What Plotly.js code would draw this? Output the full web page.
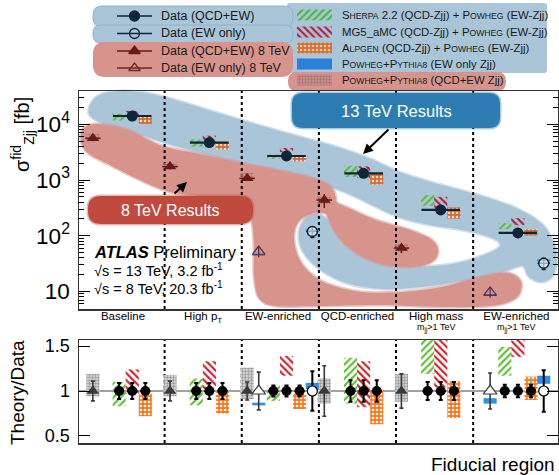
<!DOCTYPE html>
<html><head><meta charset="utf-8">
<script src="https://cdn.plot.ly/plotly-3.0.1.min.js"></script>
<style>html,body{margin:0;padding:0;background:#fff}#chart{width:559px;height:475px}</style>
</head><body><div id="chart"></div>
<script>
// ---------------- DATA ----------------
const regions = ['Baseline','High pT','EW-enriched','QCD-enriched','High mass','EW-enriched mjj>1 TeV'];
const tickText = ['Baseline','High p<sub>T</sub>','EW-enriched','QCD-enriched','High mass','EW-enriched'];
const subLabels = ['','','','','m<sub>jj</sub>&gt;1 TeV','m<sub>jj</sub>&gt;1 TeV'];
// 13 TeV data, QCD+EW (fb)
const sigma13 = [14100, 4700, 2700, 1320, 290, 112];
const relErr13 = [0.09, 0.09, 0.06, 0.12, 0.10, 0.07];
// 8 TeV data, QCD+EW (fb)
const sigma8 = [5600, 1740, 1070, 437, 60];
const relErr8 = [0.11, 0.11, 0.10, 0.28, 0.19];
// EW-only data
const ewRegions = [2, 5];
const sigmaEW13 = [119, 32];
const relErrEW13 = [0.22, 0.23];
const sigmaEW8 = [52, 9.6];
const relErrEW8 = [0.21, 0.20];
// Theory/Data ranges
const sherpaLo = [0.83, 0.84, 0.89, 0.86, 1.19, 1.17];
const sherpaHi = [1.10, 1.14, 1.06, 1.37, 1.85, 1.49];
const mg5Lo    = [0.97, 1.02, 1.17, 0.82, 1.04, 1.38];
const mg5Hi    = [1.24, 1.33, 1.39, 1.33, 1.72, 1.85];
const alpgenLo = [0.72, 0.75, 0.80, 0.63, 0.70, 0.90];
const alpgenHi = [0.97, 0.99, 0.97, 1.01, 1.11, 1.16];
const pp8Lo    = [0.94, 0.94, 0.91, 0.86, 0.88];
const pp8Hi    = [1.19, 1.18, 1.26, 1.14, 1.19];
const ewPP8Lo  = [0.84, 0.86];
const ewPP8Hi  = [0.87, 0.92];
const ewPP13Lo = [1.02, 1.08];
const ewPP13Hi = [1.09, 1.17];

// ---------------- GEOMETRY / STYLE ----------------
const W=559,H=475,ML=79,MR=1,MT=0,MB=32,PW=W-ML-MR,PH=H-MT-MB;
const OFF = {tri8:0.07, triEW8:0.22, c1:0.41, c2:0.58, c3:0.75, circEW:0.915};
const BW = 0.17;
const tickPos = [0.46,1.5,2.47,3.5,4.52,5.56];
const FONT = 'Liberation Sans, Arial, Helvetica, sans-serif';
const NAVY='#0E2638', BROWN='#6B1A14';
const GREEN='#5DBE35', RED='#D21E2E', ORANGE='#FF7417', BLUE='#2F8FE6';
const BLOB_B='#A9C5D7', BLOB_R='#D7948C';
function f(v){return v.toFixed(5);}
function P(x,y){return [(x-ML)/PW,(H-MB-y)/PH];}
function smoothPath(pts){
  const n=pts.length, Q=pts.map(p=>P(p[0],p[1]));
  let d='M'+f(Q[0][0])+','+f(Q[0][1]);
  for(let i=0;i<n;i++){
    const p0=Q[(i-1+n)%n],p1=Q[i],p2=Q[(i+1)%n],p3=Q[(i+2)%n];
    const c1=[p1[0]+(p2[0]-p0[0])/6,p1[1]+(p2[1]-p0[1])/6];
    const c2=[p2[0]-(p3[0]-p1[0])/6,p2[1]-(p3[1]-p1[1])/6];
    d+=' C'+f(c1[0])+','+f(c1[1])+' '+f(c2[0])+','+f(c2[1])+' '+f(p2[0])+','+f(p2[1]);
  }
  return d+' Z';
}
function roundRect(x0,y0,x1,y1,r){
  const pt=(x,y)=>{const q=P(x,y);return f(q[0])+','+f(q[1]);};
  return 'M'+pt(x0+r,y0)+' L'+pt(x1-r,y0)+' Q'+pt(x1,y0)+' '+pt(x1,y0+r)+
    ' L'+pt(x1,y1-r)+' Q'+pt(x1,y1)+' '+pt(x1-r,y1)+' L'+pt(x0+r,y1)+
    ' Q'+pt(x0,y1)+' '+pt(x0,y1-r)+' L'+pt(x0,y0+r)+' Q'+pt(x0,y0)+' '+pt(x0+r,y0)+' Z';
}
const idx = sigma13.map((_,i)=>i);
const idx8 = sigma8.map((_,i)=>i);

// ---------------- TRACES ----------------
const traces=[];
function bars(xa,ya,xs,base,len,pattern,color){
  traces.push({type:'bar',xaxis:xa,yaxis:ya,x:xs,base:base,y:len,width:xs.map(()=>BW),
    marker:{color:color,line:{width:0},pattern:pattern||{shape:''}},showlegend:false,hoverinfo:'skip'});
}
const patG={shape:'/',size:5,solidity:0.42,fgcolor:GREEN};
const patR={shape:'\\',size:5,solidity:0.42,fgcolor:RED};
const patO={shape:'.',size:4,solidity:0.35,fgcolor:'#ffffff',bgcolor:ORANGE};
const patOtop={shape:'.',size:4,solidity:0.35,fgcolor:'#f3d9c8',bgcolor:'#D46A2C'};
const patGray={shape:'.',size:3,solidity:0.5,fgcolor:'#9a9a9a',bgcolor:'#dddddd'};
const patGrayTop={shape:'.',size:3,solidity:0.5,fgcolor:'rgba(120,80,80,0.55)',bgcolor:'rgba(210,170,170,0.55)'};
// top panel theory boxes (theory = ratio * data)
bars('x','y',idx.map(i=>i+OFF.c1),idx.map(i=>sherpaLo[i]*sigma13[i]),idx.map(i=>(sherpaHi[i]-sherpaLo[i])*sigma13[i]),patG,GREEN);
bars('x','y',idx.map(i=>i+OFF.c2),idx.map(i=>mg5Lo[i]*sigma13[i]),idx.map(i=>(mg5Hi[i]-mg5Lo[i])*sigma13[i]),{shape:'\\',size:5,solidity:0.42,fgcolor:'#B0203A'},'#B0203A');
bars('x','y',idx.map(i=>i+OFF.c3),idx.map(i=>alpgenLo[i]*sigma13[i]),idx.map(i=>(alpgenHi[i]-alpgenLo[i])*sigma13[i]),patOtop,'#D46A2C');
bars('x','y',idx8.map(i=>i+OFF.tri8),idx8.map(i=>pp8Lo[i]*sigma8[i]),idx8.map(i=>(pp8Hi[i]-pp8Lo[i])*sigma8[i]),patGrayTop,'#b08080');
bars('x','y',ewRegions.map(i=>i+OFF.triEW8),ewRegions.map((r,k)=>ewPP8Lo[k]*sigmaEW8[k]),ewRegions.map((r,k)=>(ewPP8Hi[k]-ewPP8Lo[k])*sigmaEW8[k]),null,'#4F6FC8');
bars('x','y',ewRegions.map(i=>i+OFF.circEW),ewRegions.map((r,k)=>ewPP13Lo[k]*sigmaEW13[k]),ewRegions.map((r,k)=>(ewPP13Hi[k]-ewPP13Lo[k])*sigmaEW13[k]),null,BLUE);
// ratio panel boxes
bars('x2','y2',idx.map(i=>i+OFF.c1),sherpaLo,idx.map(i=>sherpaHi[i]-sherpaLo[i]),patG,GREEN);
bars('x2','y2',idx.map(i=>i+OFF.c2),mg5Lo,idx.map(i=>mg5Hi[i]-mg5Lo[i]),patR,RED);
bars('x2','y2',idx.map(i=>i+OFF.c3),alpgenLo,idx.map(i=>alpgenHi[i]-alpgenLo[i]),patO,ORANGE);
bars('x2','y2',idx8.map(i=>i+OFF.tri8),pp8Lo,idx8.map(i=>pp8Hi[i]-pp8Lo[i]),patGray,'#dddddd');
bars('x2','y2',ewRegions.map(i=>i+OFF.triEW8),ewPP8Lo,ewRegions.map((r,k)=>ewPP8Hi[k]-ewPP8Lo[k]),null,BLUE);
bars('x2','y2',ewRegions.map(i=>i+OFF.circEW),ewPP13Lo,ewRegions.map((r,k)=>ewPP13Hi[k]-ewPP13Lo[k]),null,BLUE);

// top panel data
traces.push({type:'scatter',mode:'markers',xaxis:'x',yaxis:'y',x:idx8.map(i=>i+OFF.tri8),y:sigma8,
  marker:{symbol:'triangle-up',size:11,color:BROWN},
  error_x:{type:'constant',value:0.1,color:BROWN,thickness:1.5,width:0},
  error_y:{type:'data',array:idx8.map(i=>sigma8[i]*relErr8[i]),color:BROWN,thickness:1.5,width:0},showlegend:false});
traces.push({type:'scatter',mode:'markers',xaxis:'x',yaxis:'y',x:ewRegions.map(i=>i+OFF.triEW8),y:sigmaEW8,
  marker:{symbol:'triangle-up-open',size:11,color:'#4a2e44',line:{width:1.2}},
  error_y:{type:'data',array:sigmaEW8.map((v,k)=>v*relErrEW8[k]),color:'#4a2e44',thickness:1.2,width:0},showlegend:false});
traces.push({type:'scatter',mode:'markers',xaxis:'x',yaxis:'y',x:idx.map(i=>i+OFF.c2),y:sigma13,
  marker:{symbol:'circle',size:11,color:NAVY},
  error_x:{type:'constant',value:0.25,color:NAVY,thickness:2.2,width:0},
  error_y:{type:'data',array:idx.map(i=>sigma13[i]*relErr13[i]),color:NAVY,thickness:2,width:0},showlegend:false});
traces.push({type:'scatter',mode:'markers',xaxis:'x',yaxis:'y',x:ewRegions.map(i=>i+OFF.circEW),y:sigmaEW13,
  marker:{symbol:'circle',size:10,color:'rgba(255,255,255,0.6)',line:{color:NAVY,width:1.5}},
  error_x:{type:'constant',value:0.08,color:NAVY,thickness:1.5,width:0},
  error_y:{type:'data',array:sigmaEW13.map((v,k)=>v*relErrEW13[k]),color:NAVY,thickness:1.5,width:2},showlegend:false});

// ratio panel data points (data / data = 1)
const rx=[],re=[];
idx.forEach(i=>{[OFF.c1,OFF.c2,OFF.c3].forEach(o=>{rx.push(i+o);re.push(relErr13[i]);});});
traces.push({type:'scatter',mode:'markers',xaxis:'x2',yaxis:'y2',x:idx8.map(i=>i+OFF.tri8),y:idx8.map(()=>1),
  marker:{symbol:'triangle-up',size:11,color:'#3a3a3a'},
  error_y:{type:'data',array:relErr8,color:'#3a3a3a',thickness:1.6,width:2},showlegend:false});
traces.push({type:'scatter',mode:'markers',xaxis:'x2',yaxis:'y2',x:ewRegions.map(i=>i+OFF.triEW8),y:ewRegions.map(()=>1),
  marker:{symbol:'triangle-up',size:12,color:'#ffffff',line:{color:'#3a3a3a',width:1.2}},
  error_y:{type:'data',array:relErrEW8,color:'#3a3a3a',thickness:1.6,width:2},showlegend:false});
traces.push({type:'scatter',mode:'markers',xaxis:'x2',yaxis:'y2',x:rx,y:rx.map(()=>1),
  marker:{symbol:'circle',size:10,color:'#000000'},
  error_x:{type:'constant',value:0.065,color:'#000',thickness:2,width:0},
  error_y:{type:'data',array:re,color:'#000',thickness:2,width:2},showlegend:false});
traces.push({type:'scatter',mode:'markers',xaxis:'x2',yaxis:'y2',x:ewRegions.map(i=>i+OFF.circEW),y:ewRegions.map(()=>1),
  marker:{symbol:'circle',size:10,color:'#ffffff',line:{color:'#000',width:1.2}},
  error_y:{type:'data',array:relErrEW13,color:'#000',thickness:2,width:2},showlegend:false});

// ---------------- LEGEND GLYPHS (overlay axis in pixel units) ----------------
const legRows=[16,33.5,51,68];
const legSym=[{s:'circle',c:NAVY},{s:'circle-open',c:NAVY},{s:'triangle-up',c:BROWN},{s:'triangle-up-open',c:'#6b2a22'}];
legSym.forEach((g,k)=>{
  traces.push({type:'scatter',mode:'markers',xaxis:'x3',yaxis:'y3',x:[134.5],y:[legRows[k]],
    marker:{symbol:g.s,size:10,color:g.c,line:{color:g.c,width:1.3}},
    error_x:{type:'constant',value:17.5,color:g.c,thickness:1.6,width:0},showlegend:false,hoverinfo:'skip'});
});
const swRows=[15,32,48,64,80];
const swPat=[{p:{shape:'/',size:5,solidity:0.42,fgcolor:'#4CB83A'},c:'#4CB83A'},
  {p:{shape:'\\',size:5,solidity:0.42,fgcolor:'#B3213F'},c:'#B3213F'},
  {p:{shape:'.',size:4,solidity:0.35,fgcolor:'#e9c9b3',bgcolor:'#D7702E'},c:'#D7702E'},
  {p:null,c:'#2B80D6'},
  {p:{shape:'.',size:3,solidity:0.5,fgcolor:'rgba(150,90,90,0.6)',bgcolor:'rgba(200,150,150,0.7)'},c:'#b58888'}];
swPat.forEach((g,k)=>{
  traces.push({type:'bar',xaxis:'x3',yaxis:'y3',x:[314.5],base:[swRows[k]-5.5],y:[11],width:[35],
    marker:{color:g.c,line:{width:0},pattern:g.p||{shape:''}},showlegend:false,hoverinfo:'skip'});
});

// ---------------- SHAPES ----------------
const shapes=[];
const blueBlob=[[89,114],[94,99],[110,92],[140,92],[172,99],[208,110],[248,122],[290,134],[330,145],[366,157],[402,173],[442,185],[482,196],[516,208],[541,223],[553,241],[557,260],[552,277],[540,282],[528,276],[522,266],
 [500,273],[462,281],[422,287],[382,289],[346,283],[318,268],[302,250],[299,232],[305,219],[316,214],[327,219],[338,233],[356,248],[382,259],[414,266],[452,264],[484,255],[500,246],
 [492,238],[462,230],[430,225],[398,217],[368,203],[342,191],[314,183],[284,174],[250,166],[212,156],[172,145],[134,133],[104,124]];
const redBlob=[[81,140],[84,128],[98,124],[128,130],[162,146],[200,154],[242,163],[282,171],[312,178],[330,186],[336,200],[330,212],[314,213],[300,220],[294,234],[297,254],[308,271],[328,284],[362,292],[402,292],[442,287],[480,277],[508,273],[521,282],[516,298],[490,306],[440,307],[380,305],[320,306],[276,306],[259,298],[254,275],[254,245],[252,222],[246,205],[228,198],[200,196],[170,192],[140,180],[110,165],[88,153]];
const redTongue=[[322,198],[346,207],[376,220],[410,230],[432,240],[438,252],[430,263],[405,267],[375,262],[352,250],[338,236],[330,222]];
function blob(pts,col,halo){
  shapes.push({type:'path',path:smoothPath(pts),xref:'paper',yref:'paper',fillcolor:col,line:{color:halo,width:3},layer:'below'});
}
blob(blueBlob,BLOB_B,'rgba(169,197,215,0.55)');
blob(redBlob,BLOB_R,'rgba(215,148,140,0.55)');
blob(redTongue,BLOB_R,'rgba(215,148,140,0.55)');
shapes.push({type:'path',path:roundRect(287,3,547,73,3),xref:'paper',yref:'paper',fillcolor:BLOB_B,line:{width:0},layer:'below'});
shapes.push({type:'path',path:roundRect(93,6,293,27,9),xref:'paper',yref:'paper',fillcolor:BLOB_B,line:{color:'#94B3C8',width:1},layer:'below'});
shapes.push({type:'path',path:roundRect(93,25,293,43,8),xref:'paper',yref:'paper',fillcolor:BLOB_B,line:{color:'#94B3C8',width:1},layer:'below'});
shapes.push({type:'path',path:roundRect(93,42,293,77,12),xref:'paper',yref:'paper',fillcolor:BLOB_R,line:{width:0},layer:'below'});
shapes.push({type:'path',path:roundRect(288,72,506,91,9),xref:'paper',yref:'paper',fillcolor:BLOB_R,line:{width:0},layer:'below'});
shapes.push({type:'path',path:roundRect(292,93,500,128,11),xref:'paper',yref:'paper',fillcolor:'#2E7DB2',line:{color:'rgba(46,125,178,0.4)',width:3},layer:'above'});
shapes.push({type:'path',path:roundRect(88,196,253,224,13),xref:'paper',yref:'paper',fillcolor:'#BF4A3D',line:{color:'rgba(191,74,61,0.4)',width:3},layer:'above'});
[1,2,3,4,5].forEach(k=>{
  shapes.push({type:'line',xref:'x',yref:'y domain',x0:k,x1:k,y0:0,y1:1,line:{color:'#000',width:2,dash:'3px,3px'},layer:'below'});
  shapes.push({type:'line',xref:'x2',yref:'y2 domain',x0:k,x1:k,y0:0,y1:1,line:{color:'#000',width:2,dash:'3px,3px'},layer:'below'});
});
shapes.push({type:'line',xref:'x2 domain',yref:'y2',x0:0,x1:1,y0:1,y1:1,line:{color:'#444',width:1},layer:'below'});

// ---------------- ANNOTATIONS ----------------
const ann=[];
function A(text,x,y,o){o=o||{};const q=P(x,y);
  ann.push({xref:'paper',yref:'paper',x:q[0],y:q[1],text:text,showarrow:false,xanchor:o.xa||'left',yanchor:'middle',
    textangle:o.rot||0,font:{family:FONT,size:o.size||12.5,color:o.color||'#1a1a1a'}});}
const legTxt=['Data (QCD+EW)','Data (EW only)','Data (QCD+EW) 8 TeV','Data (EW only) 8 TeV'];
legTxt.forEach((t,k)=>A(t,159,legRows[k]));
const sc=s=>'<span style="font-size:8.6px">'+s+'</span>';
const swTxt=['S'+sc('HERPA')+' 2.2 (QCD-Zjj) + P'+sc('OWHEG')+' (EW-Zjj)',
  'MG5_aMC (QCD-Zjj) + P'+sc('OWHEG')+' (EW-Zjj)',
  'A'+sc('LPGEN')+' (QCD-Zjj) + P'+sc('OWHEG')+' (EW-Zjj)',
  'P'+sc('OWHEG')+'+P'+sc('YTHIA8')+' (EW only Zjj)',
  'P'+sc('OWHEG')+'+P'+sc('YTHIA8')+' (QCD+EW Zjj)'];
swTxt.forEach((t,k)=>A(t,340,swRows[k],{size:11.4}));
subLabels.forEach((t,k)=>{ if(t){ const xp=ML+(tickPos[k]+0.11)/6.21*PW; A(t,xp,327.5,{xa:'center',size:9,color:'#000'}); }});
A('13 TeV Results',396,111,{xa:'center',size:16.5,color:'#ffffff'});
A('8 TeV Results',170,210,{xa:'center',size:16,color:'#ffffff'});
A('<b><i>ATLAS</i></b> Preliminary',92,252,{size:16.5,color:'#000'});
A('\u221As = 13 TeV, 3.2 fb<sup>-1</sup>',92,270,{size:14.5,color:'#000'});
A('\u221As = 8 TeV, 20.3 fb<sup>-1</sup>',92,288,{size:14.5,color:'#000'});
A('\u03c3<sup>fid</sup><sub>Zjj</sub> [fb]',22,135,{xa:'center',rot:-90,size:20,color:'#000'});
A('Theory/Data',17,393,{xa:'center',rot:-90,size:19,color:'#000'});
A('Fiducial region',557,465,{xa:'right',size:19,color:'#000'});
function arrow(hx,hy,tx,ty){const q=P(hx,hy);
  ann.push({xref:'paper',yref:'paper',x:q[0],y:q[1],ax:tx-hx,ay:ty-hy,text:'',showarrow:true,arrowhead:2,arrowsize:1,arrowwidth:2,arrowcolor:'#000'});}
arrow(187,182,173,195);
arrow(363,154,390,128);

// ---------------- LAYOUT ----------------
const topDom=[(H-MB-309)/PH,(H-MB-91)/PH];
const botDom=[0,(H-MB-340)/PH];
const layout={
  width:W,height:H,margin:{l:ML,r:MR,t:MT,b:MB},
  paper_bgcolor:'#fff',plot_bgcolor:'rgba(0,0,0,0)',
  font:{family:FONT,color:'#000'},
  barmode:'overlay',showlegend:false,
  xaxis:{domain:[0,1],anchor:'y',range:[-0.11,6.1],tickvals:tickPos,ticktext:tickText,ticks:'',ticklabelstandoff:-4,
    tickfont:{size:11.5},showline:true,mirror:true,linecolor:'#333',linewidth:1.5,showgrid:false,zeroline:false,fixedrange:true},
  yaxis:{domain:topDom,anchor:'x',type:'log',range:[0.684,4.598],dtick:1,exponentformat:'power',
    ticks:'inside',ticklen:11,tickwidth:1,tickcolor:'#000',tickfont:{size:18},ticklabelstandoff:4,
    minor:{dtick:'D1',ticks:'inside',ticklen:5,tickcolor:'#000',showgrid:false},
    showline:true,mirror:'ticks',linecolor:'#333',linewidth:1.5,showgrid:false,zeroline:false,fixedrange:true},
  xaxis2:{domain:[0,1],anchor:'y2',matches:'x',range:[-0.11,6.1],showticklabels:false,ticks:'',
    showline:true,mirror:true,linecolor:'#333',linewidth:1.5,showgrid:false,zeroline:false,fixedrange:true},
  yaxis2:{domain:botDom,anchor:'x2',range:[0.422,1.567],tickvals:[0.5,1,1.5],ticktext:['0.5','1','1.5'],
    ticks:'inside',ticklen:11,tickcolor:'#000',tickfont:{size:18},ticklabelstandoff:4,
    showline:true,mirror:'ticks',linecolor:'#333',linewidth:1.5,showgrid:false,zeroline:false,fixedrange:true},
  xaxis3:{domain:[0,1],anchor:'y3',range:[ML,W-MR],visible:false,fixedrange:true},
  yaxis3:{domain:[(H-MB-91)/PH,1],anchor:'x3',range:[91,0],visible:false,fixedrange:true},
  shapes:shapes,annotations:ann
};
Plotly.newPlot('chart',traces,layout,{displayModeBar:false,staticPlot:true});
</script></body></html>
